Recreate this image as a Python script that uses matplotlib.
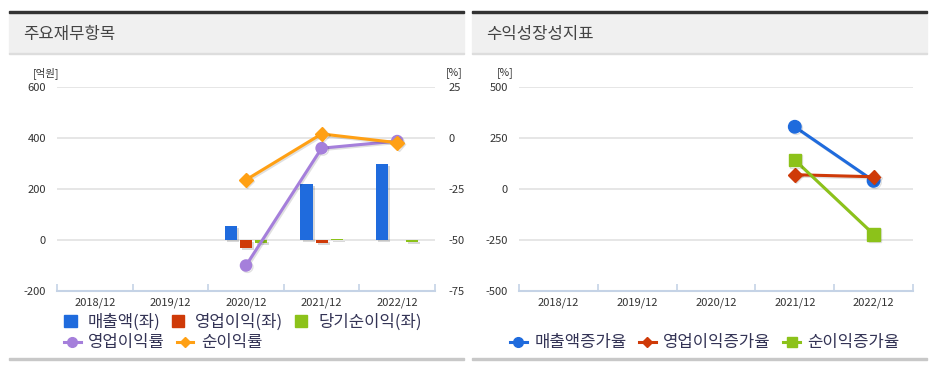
import matplotlib
matplotlib.use("Agg")
import matplotlib.pyplot as plt
import numpy as np
from matplotlib.patches import Rectangle
from matplotlib.lines import Line2D
import matplotlib.patheffects as pe

plt.rcParams['font.family'] = ['Noto Sans CJK KR', 'DejaVu Sans']

# ---- data ----
years = ["2018/12", "2019/12", "2020/12", "2021/12", "2022/12"]
sales = [np.nan, np.nan, 55, 220, 300]
op_income = [np.nan, np.nan, -33, -10, 0]
net_income = [np.nan, np.nan, -12, 3, -6]
op_margin = [np.nan, np.nan, -62.5, -5, -1.5]
net_margin = [np.nan, np.nan, -20.5, 2, -2.3]

sales_growth = [np.nan, np.nan, np.nan, 305, 40]
op_growth = [np.nan, np.nan, np.nan, 70, 60]
net_growth = [np.nan, np.nan, np.nan, 142, -222]

left_ticks = [-200, 0, 200, 400, 600]
right_ticks = [-75, -50, -25, 0, 25]
growth_ticks = [-500, -250, 0, 250, 500]

C_BLUE = "#1F6BDD"
C_RED = "#CF3A08"
C_GREEN = "#8CC21A"
C_PURPLE = "#A57FDB"
C_ORANGE = "#FFA014"
TXT = "#333333"
LEG = "#333355"

W, H = 933, 366
fig = plt.figure(figsize=(W / 100, H / 100), dpi=100)


def fx(x):
    return x / W


def fy(y):
    return 1 - y / H


def panel(x0, x1, title):
    fig.patches.append(Rectangle((fx(x0), fy(13)), fx(x1 - x0), 2 / H,
                                 transform=fig.transFigure, color="#333333", zorder=1))
    fig.patches.append(Rectangle((fx(x0), fy(53)), fx(x1 - x0), 40 / H,
                                 transform=fig.transFigure, color="#F0F0F0", zorder=0))
    fig.patches.append(Rectangle((fx(x0), fy(54)), fx(x1 - x0), 1 / H,
                                 transform=fig.transFigure, color="#DDDDDD", zorder=1))
    fig.patches.append(Rectangle((fx(x0), fy(360)), fx(x1 - x0), 2 / H,
                                 transform=fig.transFigure, color="#C8C8C8", zorder=1))
    fig.text(fx(x0 + 14), fy(34), title, fontsize=12, color="#444444",
             va="center", ha="left")


panel(9, 464, "주요재무항목")
panel(472, 927, "수익성장성지표")

shadow_line = [pe.SimpleLineShadow(offset=(1, -1), alpha=0.12, shadow_color="black"), pe.Normal()]
shadow_patch = [pe.SimplePatchShadow(offset=(1.5, -1.5), alpha=0.15, shadow_rgbFace="black"), pe.Normal()]


def style_axes(ax, ylim, yticks):
    ax.set_xlim(-0.5, 4.5)
    ax.set_ylim(*ylim)
    ax.set_yticks(yticks)
    ax.set_yticklabels([str(t) for t in yticks])
    for s in ["top", "right", "left"]:
        ax.spines[s].set_visible(False)
    ax.spines["bottom"].set_color("#C5D3E6")
    ax.spines["bottom"].set_linewidth(1.5)
    ax.set_xticks(np.arange(5))
    ax.set_xticklabels(years)
    ax.set_xticks(np.arange(-0.5, 5.0, 1.0), minor=True)
    ax.tick_params(axis="x", which="major", length=0, labelsize=8, colors=TXT, pad=5)
    ax.tick_params(axis="x", which="minor", length=5, color="#C5D3E6", width=1.2,
                   direction="in")
    ax.tick_params(axis="y", length=0, labelsize=8, colors=TXT, pad=8)
    for t in yticks:
        if t != ylim[0]:
            ax.axhline(t, color="#E2E2E2", lw=1.2, zorder=0)
    ax.set_facecolor("none")


# ---- left chart ----
axL = fig.add_axes([fx(57), fy(291), fx(435 - 57), (291 - 87) / H])
style_axes(axL, (-200, 600), left_ticks)
x = np.arange(len(years))
bw = 0.16
off = 0.2
for vals, col, dx in [(sales, C_BLUE, -off), (op_income, C_RED, 0), (net_income, C_GREEN, off)]:
    bars = axL.bar(x + dx, vals, width=bw, color=col, zorder=3)
    for b in bars:
        b.set_path_effects(shadow_patch)

axR = axL.twinx()
axR.set_ylim(-75, 25)
axR.set_yticks(right_ticks)
axR.set_yticklabels([str(t) for t in right_ticks])
for s in ["top", "right", "left", "bottom"]:
    axR.spines[s].set_visible(False)
axR.tick_params(axis="y", length=0, labelsize=8, colors=TXT, pad=10)
axR.plot(x, op_margin, color=C_PURPLE, lw=2.2, marker="o", ms=8, zorder=5,
         path_effects=shadow_line)
axR.plot(x, net_margin, color=C_ORANGE, lw=2.2, marker="D", ms=7, zorder=5,
         path_effects=shadow_line)

fig.text(fx(33), fy(73), "[억원]", fontsize=7.5, color=TXT, va="center", ha="left")
fig.text(fx(446), fy(73), "[%]", fontsize=7.5, color=TXT, va="center", ha="left")

# legends left
h1 = [Rectangle((0, 0), 1, 1, color=C_BLUE), Rectangle((0, 0), 1, 1, color=C_RED),
      Rectangle((0, 0), 1, 1, color=C_GREEN)]
l1 = ["매출액(좌)", "영업이익(좌)", "당기순이익(좌)"]
leg1 = fig.legend(h1, l1, loc="center left", bbox_to_anchor=(fx(64), fy(322)), ncol=3,
                  frameon=False, fontsize=12, handlelength=0.75, handleheight=0.75,
                  handletextpad=0.65, columnspacing=0.7, borderaxespad=0, borderpad=0,
                  labelcolor=LEG)
h2 = [Line2D([], [], color=C_PURPLE, lw=2.2, marker="o", ms=7),
      Line2D([], [], color=C_ORANGE, lw=2.2, marker="D", ms=5)]
leg2 = fig.legend(h2, ["영업이익률", "순이익률"], loc="center left",
                  bbox_to_anchor=(fx(64), fy(343)), ncol=2, frameon=False, fontsize=12,
                  handlelength=1.0, handletextpad=0.45, columnspacing=0.7,
                  borderaxespad=0, borderpad=0, labelcolor=LEG)

# ---- right chart ----
axG = fig.add_axes([fx(519), fy(291), fx(913 - 519), (291 - 87) / H])
style_axes(axG, (-500, 500), growth_ticks)
axG.plot(x, sales_growth, color=C_BLUE, lw=2.2, marker="o", ms=9, zorder=5,
         path_effects=shadow_line)
axG.plot(x, op_growth, color=C_RED, lw=2.2, marker="D", ms=7, zorder=5,
         path_effects=shadow_line)
axG.plot(x, net_growth, color=C_GREEN, lw=2.2, marker="s", ms=9, zorder=5,
         path_effects=shadow_line)
fig.text(fx(497), fy(73), "[%]", fontsize=7.5, color=TXT, va="center", ha="left")

h3 = [Line2D([], [], color=C_BLUE, lw=2.2, marker="o", ms=7),
      Line2D([], [], color=C_RED, lw=2.2, marker="D", ms=5),
      Line2D([], [], color=C_GREEN, lw=2.2, marker="s", ms=7)]
leg3 = fig.legend(h3, ["매출액증가율", "영업이익증가율", "순이익증가율"], loc="center left",
                  bbox_to_anchor=(fx(510), fy(343)), ncol=3, frameon=False, fontsize=12,
                  handlelength=1.0, handletextpad=0.45, columnspacing=0.75,
                  borderaxespad=0, borderpad=0, labelcolor=LEG)

fig.savefig("out.png", dpi=100)
